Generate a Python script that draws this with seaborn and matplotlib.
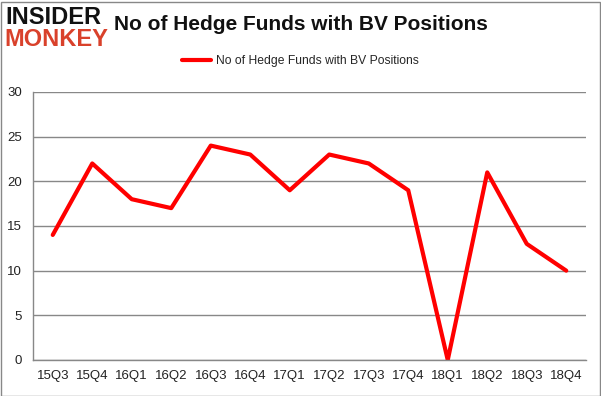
import matplotlib
matplotlib.use("Agg")
import matplotlib.pyplot as plt
import seaborn as sns
import pandas as pd
from matplotlib.patches import Rectangle

quarters = ["15Q3", "15Q4", "16Q1", "16Q2", "16Q3", "16Q4", "17Q1", "17Q2",
            "17Q3", "17Q4", "18Q1", "18Q2", "18Q3", "18Q4"]
funds = [14, 22, 18, 17, 24, 23, 19, 23, 22, 19, 0, 21, 13, 10]
series_name = "No of Hedge Funds with BV Positions"
yticks = [0, 5, 10, 15, 20, 25, 30]

df = pd.DataFrame({"quarter": quarters, "funds": funds, "x": range(len(quarters))})

sns.set_style("white")
plt.rcParams["font.family"] = ["Liberation Sans", "DejaVu Sans"]

fig = plt.figure(figsize=(6.01, 3.96), dpi=100)
ax = fig.add_axes([33 / 601, 1 - 360 / 396, (586 - 33) / 601, (360 - 92) / 396])

sns.lineplot(data=df, x="x", y="funds", ax=ax, color="#ff0000", linewidth=3,
             label=series_name, legend=False)

ax.set_xlim(-0.5, len(quarters) - 0.5)
ax.set_ylim(0, 30)
ax.set_yticks(yticks)
ax.set_yticklabels([str(v) for v in yticks], fontsize=9.5, color="#222222")
ax.set_xticks(range(len(quarters)))
ax.set_xticklabels(quarters, fontsize=9.5, color="#222222")
ax.set_xticks([i - 0.5 for i in range(len(quarters) + 1)], minor=True)
ax.tick_params(axis="x", which="major", length=0, pad=7)
ax.tick_params(axis="x", which="minor", length=5, color="#888888", width=1)
ax.tick_params(axis="y", length=5, color="#888888", width=1, pad=3)
ax.grid(axis="y", color="#888888", linewidth=1)
ax.set_axisbelow(True)
for s in ["top", "right"]:
    ax.spines[s].set_visible(False)
for s in ["left", "bottom"]:
    ax.spines[s].set_color("#888888")
    ax.spines[s].set_linewidth(1)
ax.set_xlabel("")
ax.set_ylabel("")

fig.text(0.5, 1 - 25 / 396, "No of Hedge Funds with BV Positions", ha="center", va="center",
         fontsize=15, fontweight="bold", color="#111111")
leg = ax.legend(loc="center", bbox_to_anchor=(0.483, (1 - 61 / 396 - (1 - 360 / 396)) / ((360 - 92) / 396)),
                frameon=False, fontsize=8.7, handlelength=2.4, handletextpad=0.4)

fig.text(5 / 601, 1 - 18 / 396, "INSIDER", fontsize=17, fontweight="heavy", color="#111111",
         ha="left", va="center")
fig.text(4 / 601, 1 - 40 / 396, "MONKEY", fontsize=17, fontweight="heavy", color="#d9412b",
         ha="left", va="center")

fig.patches.append(Rectangle((0.5 / 601, 0.5 / 396), 599 / 601, 394 / 396, transform=fig.transFigure,
                             fill=False, edgecolor="#888888", linewidth=1))

fig.savefig("out.png", dpi=100)
